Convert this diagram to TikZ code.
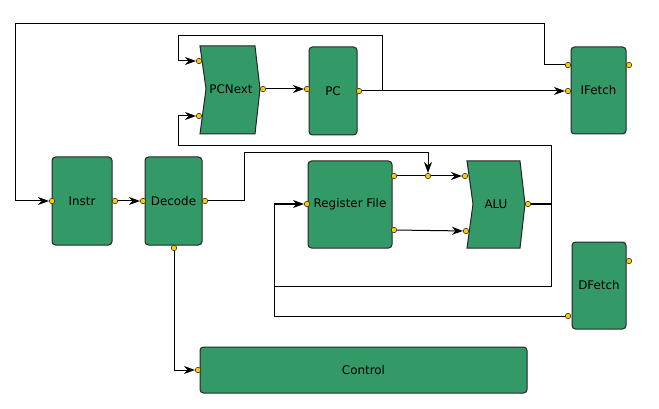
\documentclass[tikz,border=0pt]{standalone}
\usepackage{fontspec}
\setmainfont{DejaVu Sans}
\usetikzlibrary{arrows.meta}
\definecolor{blk}{HTML}{339966}
\definecolor{portc}{HTML}{FFCC00}
\pgfdeclarelayer{bg}
\pgfsetlayers{bg,main}
\begin{document}
\begin{tikzpicture}[x=1pt,y=-1pt,
 blockbox/.style={draw=black!85, fill=blk, rounded corners=3.5pt, line width=1pt, font=\fontsize{11.9}{13}\selectfont, text=black},
 chevbox/.style={draw=black!85, fill=blk, line width=1pt, line join=miter},
 lbl/.style={font=\fontsize{11.9}{13}\selectfont, text=black},
 port/.style={circle, draw=black!80, fill=portc, inner sep=0pt, minimum size=5.5pt, line width=0.6pt},
 wire/.style={line width=1pt, draw=black},
 arr/.style={wire, -{Stealth[length=11pt,width=8pt,inset=3.5pt]}},
]
\useasboundingbox (0,0) rectangle (659,409);
% blocks
\node[blockbox, minimum width=60pt, minimum height=88pt] (instr) at (82,201) {Instr};
\node[blockbox, minimum width=57pt, minimum height=88pt] (decode) at (173.5,201) {Decode};
\node[blockbox, minimum width=48pt, minimum height=88pt] (pc) at (333,91) {PC};
\node[blockbox, minimum width=55pt, minimum height=87pt] (ifetch) at (598.5,90.5) {IFetch};
\node[blockbox, minimum width=84pt, minimum height=87pt] (rf) at (350,204.5) {Register File};
\node[blockbox, minimum width=54pt, minimum height=87pt] (dfetch) at (599,285.5) {DFetch};
\node[blockbox, minimum width=327pt, minimum height=46pt] (control) at (363.5,370) {Control};
\draw[chevbox] (200,46) -- (255,46) -- (260,89) -- (255,134) -- (200,134) -- (206,89) -- cycle;
\node[lbl] (pcnext) at (231,89) {PCNext};
\draw[chevbox] (467,161) -- (520,161) -- (525,204) -- (520,248) -- (467,248) -- (473,204) -- cycle;
\node[lbl] (alu) at (496,204) {ALU};
% ports
\node[port] (instr_in) at (52,201) {};
\node[port] (instr_out) at (115,201) {};
\node[port] (dec_in) at (143,201) {};
\node[port] (dec_out) at (205,201) {};
\node[port] (dec_bot) at (174,248) {};
\node[port] (pcn_in1) at (199,61) {};
\node[port] (pcn_in2) at (199,116) {};
\node[port] (pcn_out) at (263,89) {};
\node[port] (pc_in) at (307,89) {};
\node[port] (pc_out) at (359,91) {};
\node[port] (if_in1) at (568,65) {};
\node[port] (if_in2) at (568,91) {};
\node[port] (if_out) at (629,65) {};
\node[port] (rf_in) at (307,204) {};
\node[port] (rf_out1) at (394,176) {};
\node[port] (rf_out2) at (394,230) {};
\node[port] (junc) at (428,176) {};
\node[port] (alu_in1) at (465,176) {};
\node[port] (alu_in2) at (466,231) {};
\node[port] (alu_out) at (528,204) {};
\node[port] (df_in) at (568,316) {};
\node[port] (df_out) at (629,261) {};
\node[port] (ctl_in) at (198,370) {};
% wires
\begin{pgfonlayer}{bg}
\draw[arr] (if_in1) -- (544,65) |- (15,24) |- (instr_in);
\draw[arr] (instr_out) -- (dec_in);
\draw[arr] (dec_out) -- (244,201) |- (428,153) -- (junc);
\draw[wire] (rf_out1) -- (junc);
\draw[arr] (junc) -- (alu_in1);
\draw[arr] (rf_out2) -- (alu_in2);
\draw[arr] (pcn_out) -- (pc_in);
\draw[arr] (pc_out) -- (if_in2);
\draw[arr] (pc_out) -- (382,91) -- (382,36) -- (178,36) |- (pcn_in1);
\draw[arr] (alu_out) -- (551,204) -- (551,146) -- (178,146) |- (pcn_in2);
\draw[wire] (alu_out) -- (551,204) -- (551,286) -- (274,286);
\draw[arr] (df_in) -- (274,316) |- (rf_in);
\draw[arr] (dec_bot) |- (ctl_in);
\end{pgfonlayer}
\end{tikzpicture}
\end{document}
